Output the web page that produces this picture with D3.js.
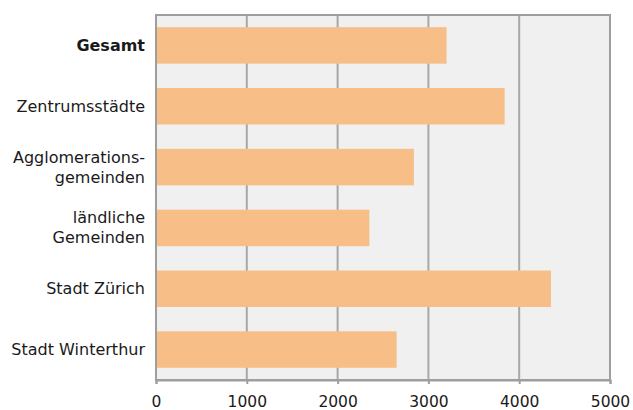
<!DOCTYPE html>
<html>
<head>
<meta charset="utf-8">
<script src="https://cdn.jsdelivr.net/npm/d3@7"></script>
<style>
  html, body { margin: 0; padding: 0; background: #fff; }
  svg { display: block; font-family: "DejaVu Sans", sans-serif; }
</style>
</head>
<body>
<svg id="chart" width="633" height="410"></svg>
<script>
// Kategorien (Zeilen), von oben nach unten
const categories = [
  ["Gesamt"],
  ["Zentrumsstädte"],
  ["Agglomerations-", "gemeinden"],
  ["ländliche", "Gemeinden"],
  ["Stadt Zürich"],
  ["Stadt Winterthur"]
];
const categoryKeys = ["gesamt", "zentrum", "agglo", "laendlich", "zuerich", "winterthur"];
const values = [3200, 3840, 2840, 2350, 4350, 2650];
const xTicks = [0, 1000, 2000, 3000, 4000, 5000];

const margin = { top: 15, right: 23, bottom: 30, left: 156 };
const width = 633, height = 410;
const svg = d3.select("#chart");

const x = d3.scaleLinear().domain([0, 5000]).range([margin.left, width - margin.right]);
const y = d3.scaleBand().domain(categoryKeys)
  .range([margin.top, height - margin.bottom])
  .paddingInner(0.4).paddingOuter(0.2);

// Plotfläche
svg.append("rect")
  .attr("x", x(0)).attr("y", margin.top)
  .attr("width", x(5000) - x(0)).attr("height", height - margin.bottom - margin.top)
  .attr("fill", "#eff0ef");

// Gitterlinien
svg.append("g")
  .selectAll("line")
  .data(xTicks.slice(1, -1))
  .join("line")
  .attr("x1", d => x(d)).attr("x2", d => x(d))
  .attr("y1", margin.top).attr("y2", height - margin.bottom)
  .attr("stroke", "#a8a8a8").attr("stroke-width", 2);

// Balken
svg.append("g")
  .selectAll("rect")
  .data(values)
  .join("rect")
  .attr("x", x(0))
  .attr("y", (d, i) => y(categoryKeys[i]))
  .attr("width", d => x(d) - x(0))
  .attr("height", y.bandwidth())
  .attr("fill", "#f7bf87");

// Rahmen
svg.append("rect")
  .attr("x", x(0)).attr("y", margin.top)
  .attr("width", x(5000) - x(0)).attr("height", height - margin.bottom - margin.top)
  .attr("fill", "none").attr("stroke", "#9e9e9e").attr("stroke-width", 2);

// x-Achse
const xAxis = svg.append("g")
  .attr("transform", `translate(0,${height - margin.bottom})`)
  .call(d3.axisBottom(x).tickValues(xTicks).tickSize(4).tickPadding(12).tickFormat(d3.format("d")));
xAxis.select(".domain").attr("stroke", "#9e9e9e").attr("stroke-width", 2);
xAxis.selectAll(".tick line").attr("stroke", "#9e9e9e").attr("stroke-width", 2);
xAxis.selectAll(".tick text")
  .attr("fill", "#1a1a1a")
  .style("font-family", "DejaVu Sans, sans-serif")
  .style("font-size", "15.5px");

// y-Beschriftungen
const labels = svg.append("g")
  .selectAll("text")
  .data(categories)
  .join("text")
  .attr("x", margin.left - 11)
  .attr("text-anchor", "end")
  .attr("fill", "#1a1a1a")
  .style("font-size", "16px")
  .style("font-weight", (d, i) => i === 0 ? "bold" : "normal")
  .attr("y", (d, i) => y(categoryKeys[i]) + y.bandwidth() / 2);

labels.each(function(lines) {
  const t = d3.select(this);
  const lh = 20;
  const start = -(lines.length - 1) * lh / 2;
  lines.forEach((l, j) => {
    t.append("tspan")
      .attr("x", margin.left - 11)
      .attr("dy", j === 0 ? (start + 5.5) : lh)
      .text(l);
  });
});
</script>
</body>
</html>
